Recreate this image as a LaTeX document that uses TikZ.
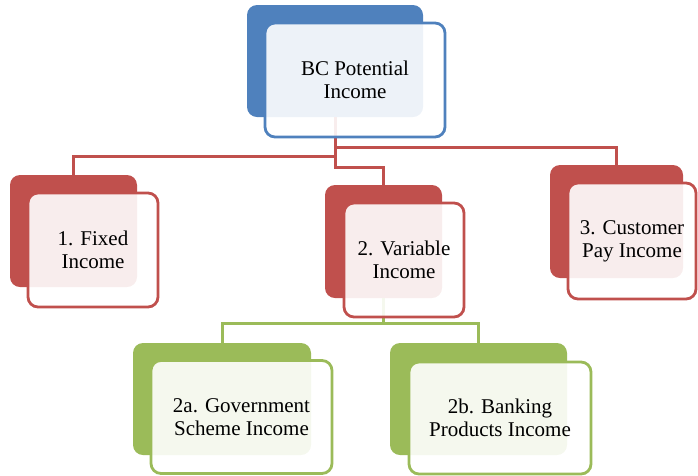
\documentclass[tikz,border=0pt]{standalone}
\usepackage{fontspec}
\setmainfont{Liberation Serif}
\definecolor{cblue}{HTML}{4F81BD}
\definecolor{cred}{HTML}{C0504D}
\definecolor{cgreen}{HTML}{9BBB59}
\tikzset{
  backbox/.style={rectangle, rounded corners=10pt, fill=#1, draw=none,
    inner sep=0pt, outer sep=0pt},
  frontbox/.style={rectangle, rounded corners=10pt, draw=#1, line width=2.8pt,
    fill=white, fill opacity=0.9, text opacity=1, text=black, align=center,
    inner sep=0pt, outer sep=0pt,
    font=\fontsize{21}{23}\selectfont},
  link/.style={draw=#1, line width=3pt},
}
\begin{document}
\begin{tikzpicture}[x=1pt,y=-1pt]
\useasboundingbox (0,0) rectangle (698,475);

% coloured back plates
\node[backbox=cblue,  minimum width=176pt, minimum height=112pt] (topB) at (335,61) {};
\node[backbox=cred,   minimum width=127pt, minimum height=112pt] (n1B)  at (73.5,231) {};
\node[backbox=cred,   minimum width=117pt, minimum height=113pt] (n2B)  at (383.5,241.5) {};
\node[backbox=cred,   minimum width=133pt, minimum height=113pt] (n3B)  at (616.5,221.5) {};
\node[backbox=cgreen, minimum width=178pt, minimum height=112pt] (n2aB) at (222,399) {};
\node[backbox=cgreen, minimum width=177pt, minimum height=112pt] (n2bB) at (478.5,399) {};

% hierarchy connectors
\draw[link=cred] (topB.south) -- ++(0,30) -| (n3B.north);
\draw[link=cred] (topB.south) -- ++(0,39) -| (n1B.north);
\draw[link=cred] (topB.south) -- ++(0,50) -| (n2B.north);
\draw[link=cgreen] (n2B.south) -- ++(0,25) -| (n2aB.north);
\draw[link=cgreen] (n2B.south) -- ++(0,25) -| (n2bB.north);

% translucent front cards with labels
\node[frontbox=cblue,  minimum width=180pt, minimum height=114pt] (topF) at (355,80)
  {BC Potential\\Income};
\node[frontbox=cred,   minimum width=130pt, minimum height=114pt] (n1F)  at (93,250)
  {1. Fixed\\Income};
\node[frontbox=cred,   minimum width=120pt, minimum height=114pt] (n2F)  at (404,260)
  {2. Variable\\Income};
\node[frontbox=cred,   minimum width=128pt, minimum height=116pt] (n3F)  at (632,241)
  {3. Customer\\Pay Income};
\node[frontbox=cgreen, minimum width=181pt, minimum height=113pt] (n2aF) at (241.5,417)
  {2a. Government\\Scheme Income};
\node[frontbox=cgreen, minimum width=182pt, minimum height=112pt] (n2bF) at (500,418)
  {2b. Banking\\Products Income};
\end{tikzpicture}
\end{document}
